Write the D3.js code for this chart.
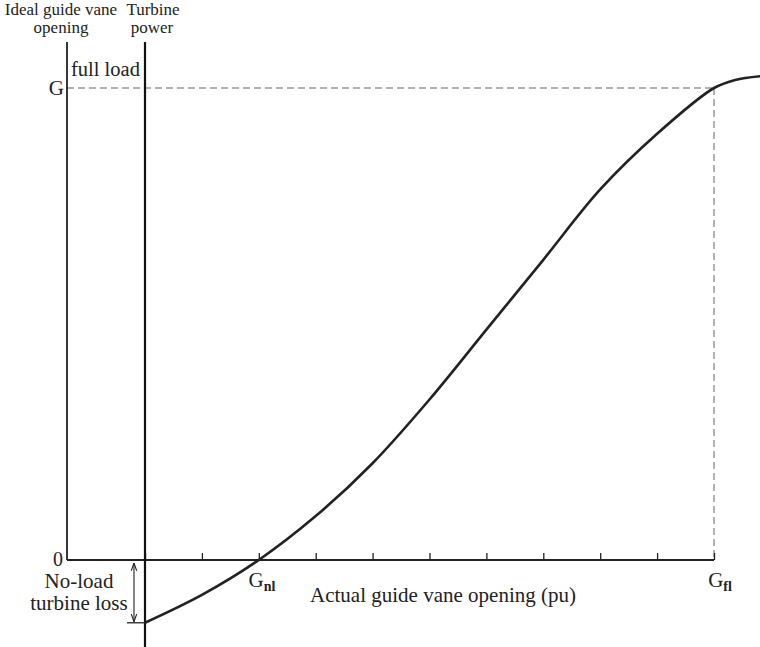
<!DOCTYPE html>
<html>
<head>
<meta charset="utf-8">
<script src="https://cdn.jsdelivr.net/npm/d3@7"></script>
<style>
  html, body { margin: 0; padding: 0; background: #fff; }
  svg text { font-family: "Liberation Serif", "DejaVu Serif", serif; fill: #222; }
</style>
</head>
<body>
<svg id="chart" width="760" height="647"></svg>
<script>
// Actual guide vane opening (pu) and the turbine power it produces (pu of full load G)
const opening = [0, 0.1, 0.2, 0.3, 0.4, 0.5, 0.6, 0.7, 0.8, 0.9, 1.0, 1.037, 1.081];
const power   = [-0.133, -0.074, 0, 0.093, 0.205, 0.340, 0.488, 0.636, 0.785, 0.903, 1.0, 1.017, 1.025];
const tickValues = [0, 0.1, 0.2, 0.3, 0.4, 0.5, 0.6, 0.7, 0.8, 0.9, 1.0];
const noLoadOpening = 0.2;   // G_nl
const fullLoadOpening = 1.0; // G_fl
const fullLoadPower = 1.0;   // G

const svg = d3.select("#chart");
const x = d3.scaleLinear().domain([0, 1]).range([145, 714]);
const y = d3.scaleLinear().domain([0, 1]).range([560, 88]);
const idealX = 67;

// dashed guides to the full-load point
svg.append("line").attr("x1", idealX).attr("x2", x(fullLoadOpening))
  .attr("y1", y(fullLoadPower)).attr("y2", y(fullLoadPower))
  .attr("stroke", "#999").attr("stroke-width", 1.5).attr("stroke-dasharray", "7,4");
svg.append("line").attr("x1", x(fullLoadOpening)).attr("x2", x(fullLoadOpening))
  .attr("y1", y(fullLoadPower)).attr("y2", y(0))
  .attr("stroke", "#999").attr("stroke-width", 1.5).attr("stroke-dasharray", "7,4");

// horizontal axis with inward ticks
const xAxis = d3.axisTop(x).tickValues(tickValues).tickSize(7).tickFormat("");
const gx = svg.append("g").attr("transform", `translate(0,${y(0)})`).call(xAxis);
gx.select(".domain").remove();
gx.selectAll(".tick line").attr("stroke", "#222").attr("stroke-width", 1.3);
svg.append("line").attr("x1", idealX).attr("x2", x(1))
  .attr("y1", y(0)).attr("y2", y(0)).attr("stroke", "#222").attr("stroke-width", 2);

// ideal guide vane opening axis
svg.append("line").attr("x1", idealX).attr("x2", idealX)
  .attr("y1", 42).attr("y2", y(0)).attr("stroke", "#222").attr("stroke-width", 1.8);
// turbine power axis
svg.append("line").attr("x1", x(0)).attr("x2", x(0))
  .attr("y1", 42).attr("y2", 647).attr("stroke", "#111").attr("stroke-width", 2.2);

// power curve
const line = d3.line().x((d, i) => x(opening[i])).y(d => y(d)).curve(d3.curveCatmullRom.alpha(0.5));
svg.append("path").datum(power).attr("d", line)
  .attr("fill", "none").attr("stroke", "#222").attr("stroke-width", 2.6);

// no-load loss marker
const lossY = y(power[0]);
svg.append("line").attr("x1", 127).attr("x2", x(0)).attr("y1", lossY).attr("y2", lossY)
  .attr("stroke", "#222").attr("stroke-width", 1.3);
const defs = svg.append("defs");
defs.append("marker").attr("id", "arrow").attr("viewBox", "0 0 10 10")
  .attr("refX", 10).attr("refY", 5).attr("markerWidth", 7).attr("markerHeight", 7)
  .attr("orient", "auto-start-reverse")
  .append("path").attr("d", "M0,1.5 L10,5 L0,8.5").attr("fill", "none")
  .attr("stroke", "#222").attr("stroke-width", 1.4);
svg.append("line").attr("x1", 134).attr("x2", 134).attr("y1", y(0) + 3).attr("y2", lossY - 1)
  .attr("stroke", "#222").attr("stroke-width", 1.1)
  .attr("marker-start", "url(#arrow)").attr("marker-end", "url(#arrow)");

// text labels
function label(txt, px, py, size, anchor) {
  return svg.append("text").attr("x", px).attr("y", py)
    .attr("font-size", size).attr("text-anchor", anchor || "middle").text(txt);
}
label("Ideal guide vane", 61, 15, 17);
label("opening", 61, 33, 17);
label("Turbine", 153, 15, 17);
label("power", 152, 33, 17);
label("full load", 71, 76, 20.5, "start");
label("G", 64, 95, 21, "end");
label("0", 63, 566, 20, "end");
label("No-load", 79, 588, 21);
label("turbine loss", 79, 610, 21);
label("Actual guide vane opening (pu)", 443, 602, 21);

function subLabel(main, sub, px, py) {
  const t = svg.append("text").attr("x", px).attr("y", py)
    .attr("font-size", 21).attr("text-anchor", "middle");
  t.append("tspan").text(main);
  t.append("tspan").attr("font-size", 14).attr("font-weight", "bold").attr("dy", 4).text(sub);
}
subLabel("G", "nl", 262, 587);
subLabel("G", "fl", 720, 587);
</script>
</body>
</html>
